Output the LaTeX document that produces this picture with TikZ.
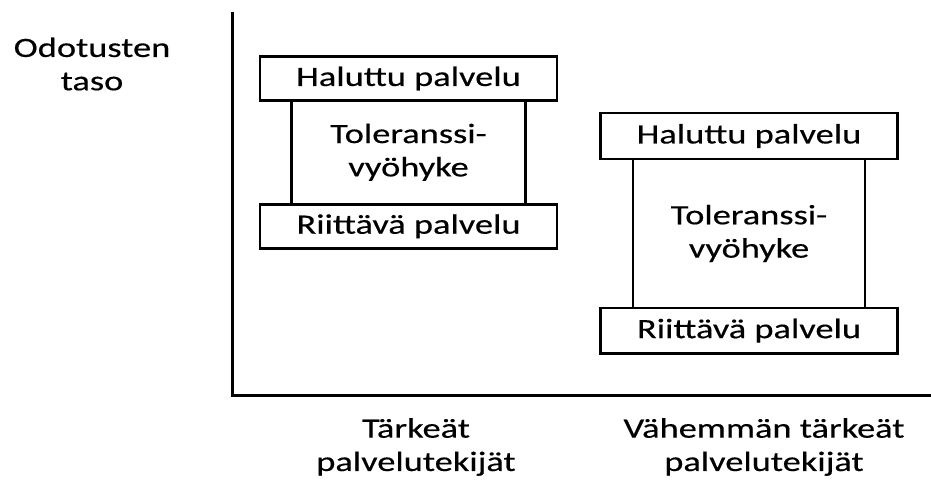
\documentclass[tikz,border=0pt]{standalone}
\usepackage{fontspec}
\setmainfont{Carlito}[FakeStretch=1.3,FakeBold=0.4]
\usetikzlibrary{positioning}

\begin{document}
\begin{tikzpicture}[
        x=0.75pt, y=-0.75pt,
        servbox/.style={rectangle, draw, line width=2pt, outer sep=0pt,
                      minimum width=222.75pt, inner sep=0pt},
        tolbox/.style={rectangle, draw, line width=2pt, outer sep=0pt,
                      align=center, inner sep=0pt},
        label/.style={align=center},
        axis/.style={draw, line width=2.25pt}
    ]
    \useasboundingbox (0,0) rectangle (931,479);
    \tikzset{every node/.append style={font=\fontsize{21}{25}\selectfont}}

    % Axes
    \coordinate (ytop) at (232,12);
    \coordinate (origo) at (232,395);
    \coordinate (xend) at (931,395);
    \draw [axis] (ytop) -- (origo) -- (xend);

    % Important factors
    \node [servbox, minimum height=32.6pt] (halu1) at (408.5,78.5) {Haluttu palvelu};
    \node [tolbox, minimum width=175.5pt, minimum height=78pt, below=0pt of halu1] (tol1) {Toleranssi-\\vyöhyke};
    \node [servbox, minimum height=33pt, below=0pt of tol1] (riit1) {Riittävä palvelu};

    % Less important factors
    \node [servbox, minimum height=34.5pt] (halu2) at (749,136) {Haluttu palvelu};
    \node [tolbox, minimum width=174pt, minimum height=111.75pt, below=0pt of halu2] (tol2) {Toleranssi-\\vyöhyke};
    \node [servbox, minimum height=34pt, below=0pt of tol2] (riit2) {Riittävä palvelu};

    % Labels
    \node [label] (taso) at (92,64) {Odotusten\\taso};
    \node [label] (tark) at (416,447) {Tärkeät\\palvelutekijät};
    \node [label] (vahem) at (764,447) {Vähemmän tärkeät\\palvelutekijät};
\end{tikzpicture}
\end{document}
